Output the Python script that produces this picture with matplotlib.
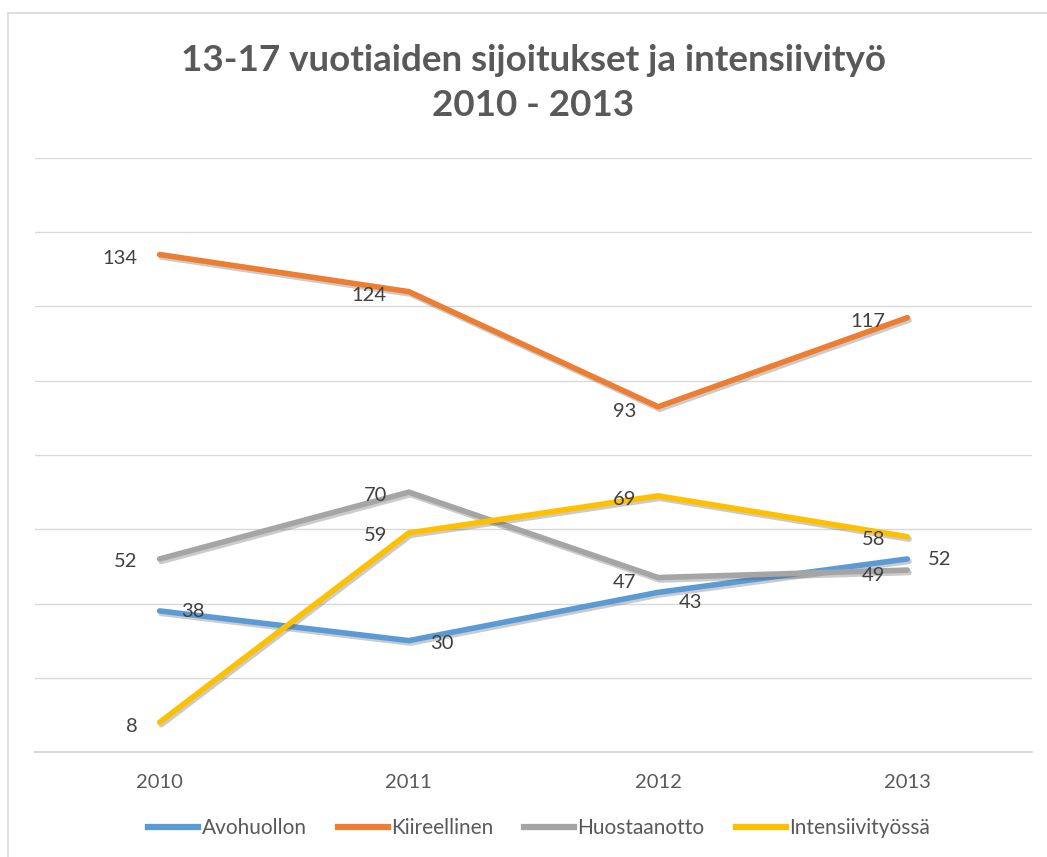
import matplotlib.pyplot as plt
import matplotlib.patheffects as pe
from matplotlib.lines import Line2D

# ── DATA ──────────────────────────────────────────────────────────────────────
years = ["2010", "2011", "2012", "2013"]
avohuollon = [38, 30, 43, 52]
kiireellinen = [134, 124, 93, 117]
huostaanotto = [52, 70, 47, 49]
intensiivi = [8, 59, 69, 58]
series_names = ["Avohuollon", "Kiireellinen", "Huostaanotto", "Intensiivityössä"]

# label side ("left"/"right" of the point) and vertical nudge in pixels
label_side = {"Avohuollon": "right", "Kiireellinen": "left",
              "Huostaanotto": "left", "Intensiivityössä": "left"}
label_dy = {
    "Avohuollon":       [-1, -3, -10, -1],
    "Kiireellinen":     [-4, -4, -5, -4],
    "Huostaanotto":     [-3, -3, -5, -5],
    "Intensiivityössä": [-4, -3, -4, -3],
}
colors = ["#5B9BD5", "#ED7D31", "#A5A5A5", "#FFC000"]

plt.rcParams["font.family"] = ["Lato", "DejaVu Sans"]

W, H = 1047, 857
fig = plt.figure(figsize=(W / 100, H / 100), dpi=100, facecolor="white")

# chart frame (top and left edges visible)
fig.add_artist(Line2D([8 / W, 8 / W], [0, 1 - 13 / H], transform=fig.transFigure,
                      color="#D9D9D9", lw=1.2))
fig.add_artist(Line2D([8 / W, 1], [1 - 13 / H, 1 - 13 / H], transform=fig.transFigure,
                      color="#D9D9D9", lw=1.2))

ax = fig.add_axes([35 / W, 1 - 752 / H, (1032 - 35) / W, (752 - 158) / H])
x = list(range(len(years)))
ax.set_xlim(-0.5, len(years) - 0.5)
ax.set_ylim(0, 160)
ax.set_yticks(range(0, 161, 20))
ax.yaxis.grid(True, color="#D9D9D9", lw=1)
ax.set_axisbelow(True)
for s in ["top", "right", "left"]:
    ax.spines[s].set_visible(False)
ax.spines["bottom"].set_color("#D9D9D9")
ax.spines["bottom"].set_linewidth(1.5)
ax.tick_params(axis="y", left=False, labelleft=False)
ax.tick_params(axis="x", length=0, pad=16, labelsize=14.5, labelcolor="#595959")
ax.set_xticks(x)
ax.set_xticklabels(years)

shadow = [pe.SimpleLineShadow(offset=(1.2, -1.8), shadow_color="#555555", alpha=0.3),
          pe.Normal()]

for name, vals, col in zip(series_names,
                           [avohuollon, kiireellinen, huostaanotto, intensiivi],
                           colors):
    ax.plot(x, vals, color=col, lw=4, solid_capstyle="round",
            solid_joinstyle="miter", label=name, path_effects=shadow)
    side = label_side[name]
    dx, ha = (21, "left") if side == "right" else (-22, "right")
    for xi, v, dy in zip(x, vals, label_dy[name]):
        ax.annotate(str(v), (xi, v), xytext=(dx, dy), textcoords="offset pixels",
                    ha=ha, va="center", fontsize=14.5, color="#404040")

fig.text(0.5 * (35 + 1032) / W, 1 - 83 / H,
         "13-17 vuotiaiden sijoitukset ja intensiivityö\n2010 - 2013",
         ha="center", va="center", fontsize=26.5, fontweight="bold",
         color="#595959", linespacing=1.45)

handles = [Line2D([0], [0], color=c, lw=4.5) for c in colors]
fig.legend(handles, series_names, loc="center", bbox_to_anchor=(0.515, 1 - 828 / H),
           ncol=4, frameon=False, fontsize=15, labelcolor="#595959",
           handlelength=2.4, handletextpad=0.15, columnspacing=1.5)

fig.savefig("out.png", dpi=100, facecolor="white")
